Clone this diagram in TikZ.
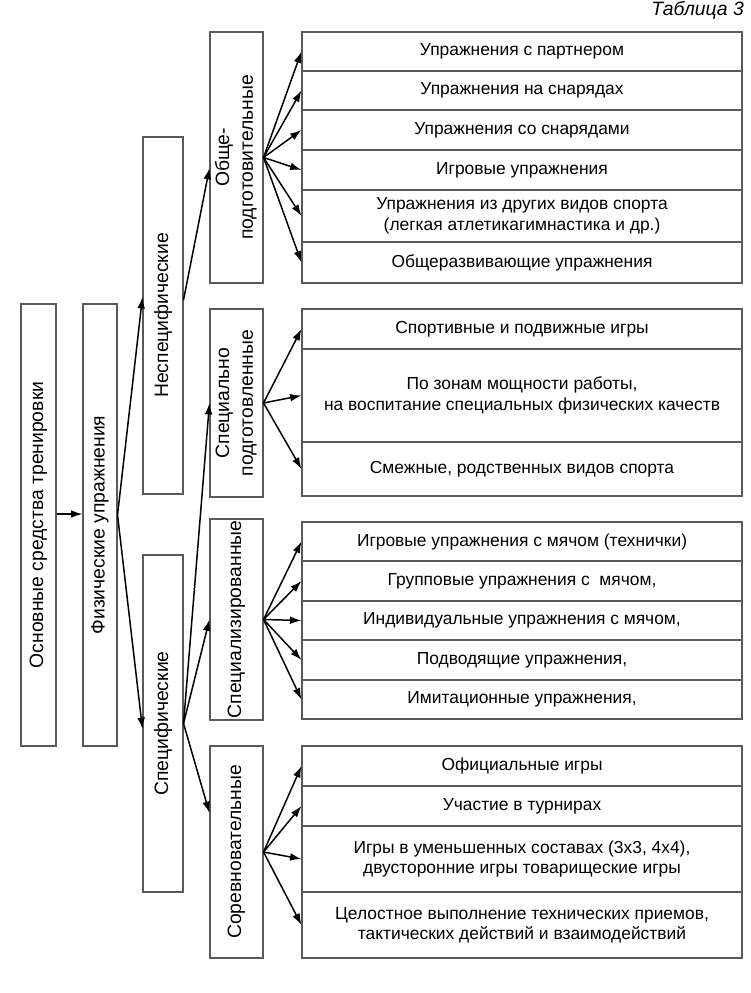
\documentclass[tikz,border=0pt]{standalone}
\usepackage{fontspec}
\setmainfont{Liberation Sans}
\usepackage{graphicx}
\usetikzlibrary{arrows.meta, positioning}

\tikzset{
	vbox/.style={draw=black!65, line width=0.6pt, inner sep=0pt, font=\fontsize{11}{13}\selectfont},
	cell/.style={draw=black!65, line width=0.6pt, inner sep=0pt, minimum width=88mm, align=center, font=\fontsize{9.9}{11.6}\selectfont},
	link/.style={-{Latex[length=6.5pt,width=4.4pt]}, line width=0.85pt},
}

\begin{document}
\begin{tikzpicture}[x=0.2mm, y=-0.2mm]
		\useasboundingbox (0,0) rectangle (750,993);
		\node[anchor=east, font=\fontsize{11}{13}\selectfont\itshape] (tab) at (750,10) {Таблица 3};
		
		% left columns
		\node[vbox, minimum width=7mm, minimum height=88.4mm] (osn) at (38.5,525) {\rotatebox{90}{Основные средства тренировки}};
		\node[vbox, minimum width=6.8mm, minimum height=88.4mm] (fiz) at (100,525) {\rotatebox{90}{Физические упражнения}};
		\node[vbox, minimum width=8mm, minimum height=71.4mm] (nespec) at (163,315.5) {\rotatebox{90}{Неспецифические}};
		\node[vbox, minimum width=8mm, minimum height=67.4mm] (spec) at (163,723.5) {\rotatebox{90}{Специфические}};
		\node[vbox, minimum width=10.6mm, minimum height=50.2mm] (obshe) at (236.5,157.5) {\rotatebox{90}{\begin{tabular}{@{}c@{}}Обще-\\[0.5pt]подготовительные\end{tabular}}};
		\node[vbox, minimum width=10.6mm, minimum height=37.6mm] (specpod) at (236.5,403) {\rotatebox{90}{\begin{tabular}{@{}c@{}}Специально\\[0.5pt]подготовленные\end{tabular}}};
		\node[vbox, minimum width=10.6mm, minimum height=40.2mm] (specializ) at (236.5,619.5) {\rotatebox{90}{Специализированные}};
		\node[vbox, minimum width=10.6mm, minimum height=42.4mm] (sorev) at (236.5,852) {\rotatebox{90}{Соревновательные}};
		
		% right table
		\node[cell, minimum height=7.8mm] (g1r1) at (522,51.5) {Упражнения с партнером};
		\node[cell, minimum height=7.8mm] (g1r2) at (522,90.5) {Упражнения на снарядах};
		\node[cell, minimum height=8mm] (g1r3) at (522,130) {Упражнения со снарядами};
		\node[cell, minimum height=8mm] (g1r4) at (522,170) {Игровые упражнения};
		\node[cell, minimum height=10.4mm] (g1r5) at (522,216) {Упражнения из других видов спорта\\(легкая атлетикагимнастика и др.)};
		\node[cell, minimum height=8.2mm] (g1r6) at (522,262.5) {Общеразвивающие упражнения};
		
		\node[cell, minimum height=8mm] (g2r1) at (522,329) {Спортивные и подвижные игры};
		\node[cell, minimum height=18.6mm] (g2r2) at (522,395.5) {По зонам мощности работы,\\на воспитание специальных физических качеств};
		\node[cell, minimum height=10.8mm] (g2r3) at (522,469) {Смежные, родственных видов спорта};
		
		\node[cell, minimum height=7.8mm] (g3r1) at (522,541.5) {Игровые упражнения с мячом (технички)};
		\node[cell, minimum height=8mm] (g3r2) at (522,581) {Групповые упражнения с~ мячом,};
		\node[cell, minimum height=7.8mm] (g3r3) at (522,620.5) {Индивидуальные упражнения с мячом,};
		\node[cell, minimum height=8mm] (g3r4) at (522,660) {Подводящие упражнения,};
		\node[cell, minimum height=7.8mm] (g3r5) at (522,699.5) {Имитационные упражнения,};
		
		\node[cell, minimum height=8mm] (g4r1) at (522,766) {Официальные игры};
		\node[cell, minimum height=8mm] (g4r2) at (522,806) {Участие в турнирах};
		\node[cell, minimum height=13.2mm] (g4r3) at (522,859) {Игры в уменьшенных составах (3х3, 4х4),\\двусторонние игры товарищеские игры};
		\node[cell, minimum height=13.2mm] (g4r4) at (522,925) {Целостное выполнение технических приемов,\\тактических действий и взаимодействий};
		
		% arrows
		\draw[link] ([yshift=2.2mm]osn.east) -- ([yshift=2.2mm]fiz.west);
		\draw[link] ([yshift=2mm]fiz.east) -- ([yshift=3.7mm]nespec.west);
		\draw[link] ([yshift=2mm]fiz.east) -- ([yshift=-1.1mm]spec.west);
		\draw[link] ([yshift=3.1mm]nespec.east) -- ([yshift=-2.1mm]obshe.west);
		\draw[link] (spec.east) -- (specpod.west);
		\draw[link] (spec.east) -- (specializ.west);
		\draw[link] (spec.east) -- ([yshift=7.8mm]sorev.west);
		
		\draw[link] (obshe.east) -- (g1r1.west);
		\draw[link] (obshe.east) -- (g1r2.west);
		\draw[link] (obshe.east) -- (g1r3.west);
		\draw[link] (obshe.east) -- (g1r4.west);
		\draw[link] (obshe.east) -- (g1r5.west);
		\draw[link] (obshe.east) -- (g1r6.west);
		
		\draw[link] (specpod.east) -- (g2r1.west);
		\draw[link] (specpod.east) -- (g2r2.west);
		\draw[link] (specpod.east) -- (g2r3.west);
		
		\draw[link] (specializ.east) -- (g3r1.west);
		\draw[link] (specializ.east) -- (g3r2.west);
		\draw[link] (specializ.east) -- (g3r3.west);
		\draw[link] (specializ.east) -- (g3r4.west);
		\draw[link] (specializ.east) -- (g3r5.west);
		
		\draw[link] (sorev.east) -- (g4r1.west);
		\draw[link] (sorev.east) -- (g4r2.west);
		\draw[link] (sorev.east) -- (g4r3.west);
		\draw[link] (sorev.east) -- (g4r4.west);
	\end{tikzpicture}
\end{document}
